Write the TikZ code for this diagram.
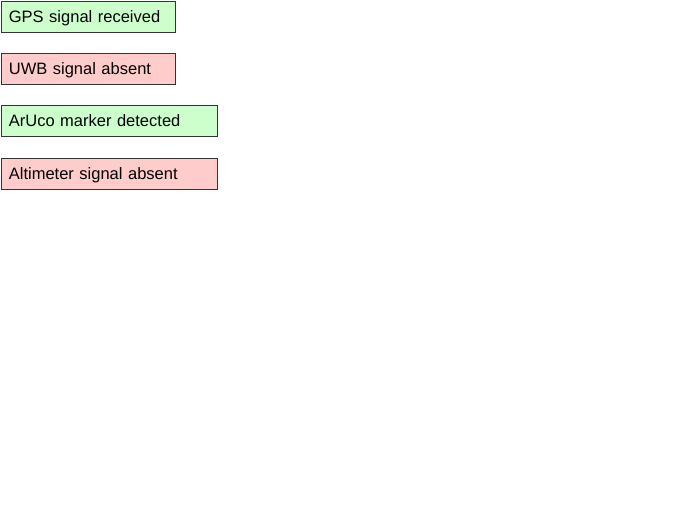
\documentclass[tikz,border=0pt]{standalone}
\usepackage{fontspec}
\setmainfont{Liberation Sans}
\usepackage{xcolor}
\definecolor{okgreen}{HTML}{CCFFCC}
\definecolor{badred}{HTML}{FFCCCC}
\usetikzlibrary{positioning}

\tikzset{
  status/.style={draw=black!80, line width=0.8pt, anchor=north west,
    minimum height=31pt, inner xsep=8pt, inner ysep=0pt, align=left,
    text height=14.5pt, text depth=1.5pt,
    font=\fontsize{16.5}{19}\selectfont},
  short/.style={status, text width=158pt},
  long/.style={status, text width=200pt},
  ok/.style={fill=okgreen},
  bad/.style={fill=badred}
}

\begin{document}
\begin{tikzpicture}[x=1pt, y=-1pt]
\useasboundingbox (0,0) rectangle (700,525);
\node[short, ok] (gps) at (0.5,0.5) {GPS signal received};
\node[short, bad] (uwb) at (0.5,52.5) {UWB signal absent};
\node[long, ok] (aruco) at (0.5,104.5) {ArUco marker detected};
\node[long, bad] (alti) at (0.5,157.5) {Altimeter signal absent};
\end{tikzpicture}
\end{document}
